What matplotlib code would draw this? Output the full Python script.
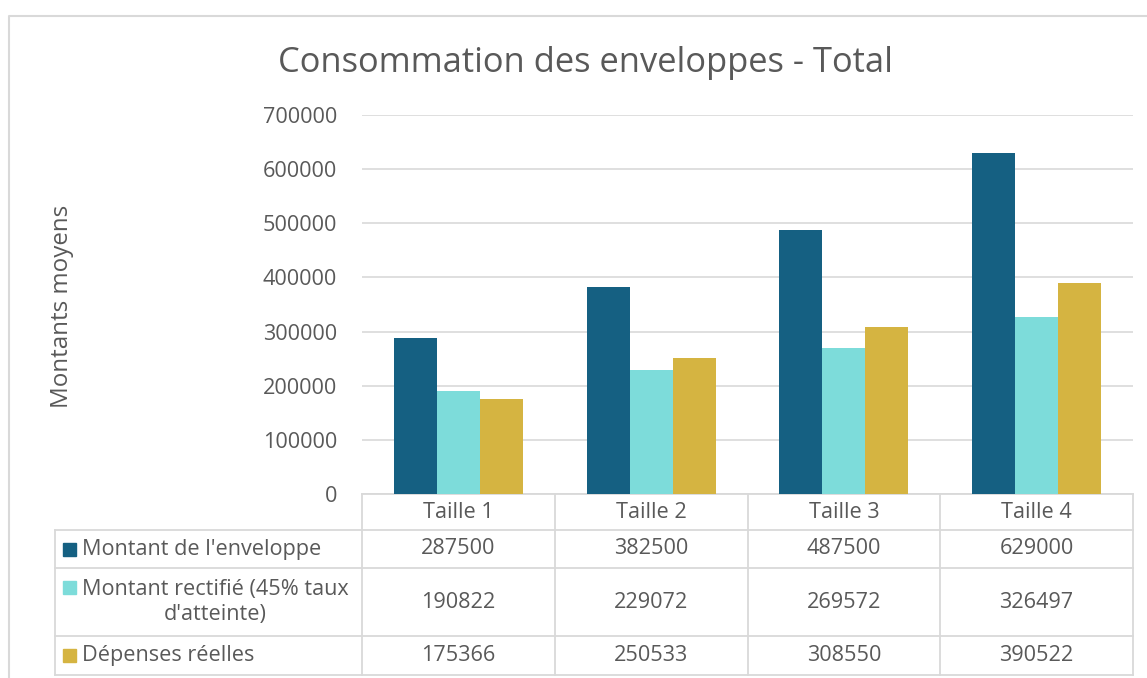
import matplotlib.pyplot as plt
import numpy as np
from matplotlib.patches import Rectangle

plt.rcParams["font.family"] = ["Open Sans", "DejaVu Sans"]

title = "Consommation des enveloppes - Total"
ylabel = "Montants moyens"
categories = ["Taille 1", "Taille 2", "Taille 3", "Taille 4"]
series_names = [
    "Montant de l'enveloppe",
    "Montant rectifié (45% taux\nd'atteinte)",
    "Dépenses réelles",
]
enveloppe = [287500, 382500, 487500, 629000]
rectifie = [190822, 229072, 269572, 326497]
depenses = [175366, 250533, 308550, 390522]
colors = ["#156082", "#7DDCDA", "#D5B441"]
text_color = "#595959"
line_color = "#D9D9D9"

W, H = 1147, 678
fig = plt.figure(figsize=(W / 100, H / 100), dpi=100)

# overlay in pixel coords for frame and table
over = fig.add_axes([0, 0, 1, 1])
over.set_xlim(0, W)
over.set_ylim(H, 0)
over.axis("off")

# chart frame (cut off on right and bottom)
over.plot([9, 9, W + 5], [H + 5, 16, 16], color=line_color, lw=1.5)

# main plot area
x_left, x_right = 362, 1133
y_top, y_zero = 115, 494
ax = fig.add_axes([x_left / W, 1 - y_zero / H,
                   (x_right - x_left) / W, (y_zero - y_top) / H])
ax.set_zorder(2)
ax.patch.set_alpha(0)

series = [enveloppe, rectifie, depenses]
x = np.arange(len(categories))
bw = 0.223
for i, (vals, c) in enumerate(zip(series, colors)):
    ax.bar(x + (i - 1) * bw, vals, width=bw, color=c, zorder=3)

fs = 15.6
ax.set_xlim(-0.5, len(categories) - 0.5)
ax.set_ylim(0, 700000)
ax.set_yticks(np.arange(0, 700001, 100000))
ax.yaxis.set_major_formatter(plt.FuncFormatter(lambda v, p: f"{int(v)}"))
ax.tick_params(axis="y", length=0, pad=18, labelsize=fs, labelcolor=text_color)
ax.set_xticks([])
ax.grid(axis="y", color=line_color, lw=1.2, zorder=0)
for s in ax.spines.values():
    s.set_visible(False)

fig.text(62 / W, 1 - 306 / H, ylabel, rotation=90, ha="center", va="center",
         fontsize=17.4, color=text_color)
fig.text(586 / W, 1 - 63 / H, title, ha="center", va="center",
         fontsize=24.8, color=text_color)

# data table
col_w = (x_right - x_left) / len(categories)
rows_y = [494, 530, 568, 636, 675]
label_left = 55
lw = 1.3
# horizontal lines
over.plot([x_left, x_right], [rows_y[0], rows_y[0]], color=line_color, lw=lw)
for y in rows_y[1:]:
    over.plot([label_left, x_right], [y, y], color=line_color, lw=lw)
# vertical lines
over.plot([label_left, label_left], [rows_y[1], rows_y[-1]], color=line_color, lw=lw)
for j in range(len(categories) + 1):
    xx = x_left + j * col_w
    over.plot([xx, xx], [rows_y[0], rows_y[-1]], color=line_color, lw=lw)

for j, cat in enumerate(categories):
    cx = x_left + (j + 0.5) * col_w
    over.text(cx, (rows_y[0] + rows_y[1]) / 2, cat, ha="center", va="center",
              fontsize=fs, color=text_color)
    for i, vals in enumerate(series):
        cy = (rows_y[i + 1] + rows_y[i + 2]) / 2
        over.text(cx, cy, f"{vals[j]}", ha="center", va="center",
                  fontsize=fs, color=text_color)

for i, (name, c) in enumerate(zip(series_names, colors)):
    top, bot = rows_y[i + 1], rows_y[i + 2]
    if "\n" in name:
        ky = top + 19
    else:
        ky = (top + bot) / 2
    over.add_patch(Rectangle((63, ky - 6.5), 13, 13, color=c))
    over.text(82, (top + bot) / 2, name, ha="left", va="center",
              multialignment="center", fontsize=fs, color=text_color,
              linespacing=1.3)

fig.savefig("out.png", dpi=100)
